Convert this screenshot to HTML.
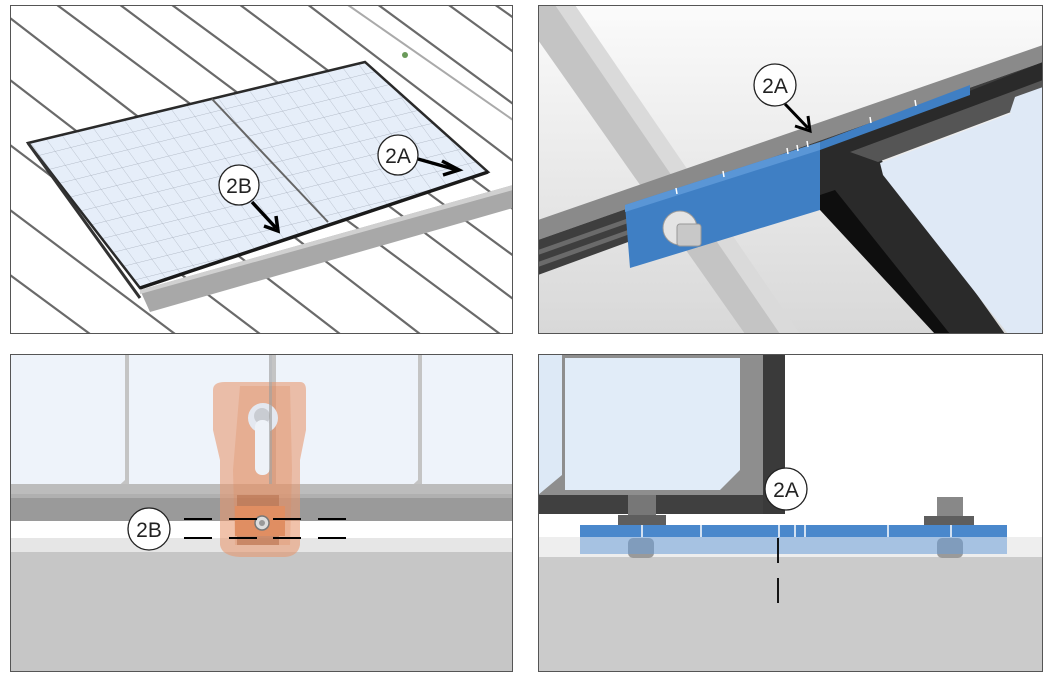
<!DOCTYPE html>
<html><head><meta charset="utf-8"><style>
html,body{margin:0;padding:0;background:#fff;}
svg{display:block;}
text{font-family:"Liberation Sans",sans-serif;}
</style></head><body>
<svg width="1063" height="693" viewBox="0 0 1063 693" xmlns="http://www.w3.org/2000/svg">
<defs>
<clipPath id="c1"><rect x="10" y="5" width="503" height="329"/></clipPath>
<clipPath id="c2"><rect x="538" y="5" width="505" height="329"/></clipPath>
<clipPath id="c3"><rect x="10" y="354" width="503" height="318"/></clipPath>
<clipPath id="c4"><rect x="538" y="354" width="505" height="318"/></clipPath>
<linearGradient id="bg2" x1="0" y1="0" x2="0" y2="1"><stop offset="0" stop-color="#fbfbfb"/><stop offset="1" stop-color="#d8d8d8"/></linearGradient>
<pattern id="grid" width="16" height="16" patternUnits="userSpaceOnUse" patternTransform="rotate(-14) skewX(22)"><rect width="16" height="16" fill="#e6eef9"/><path d="M0 0H16M0 0V16" stroke="#a0a8b6" stroke-width="0.6"/></pattern>
</defs>

<!-- Panel 1 -->
<g clip-path="url(#c1)">
<rect x="10" y="5" width="503" height="329" fill="#fff"/>
<g stroke="#6a6a6a" stroke-width="2.2">
<line x1="10" y1="18" x2="420" y2="334"/>
<line x1="10" y1="-30" x2="500" y2="334"/>
<line x1="20" y1="-70" x2="560" y2="334"/>
<line x1="70" y1="-70" x2="620" y2="334"/>
<line x1="140" y1="-70" x2="680" y2="334"/>
<line x1="210" y1="-70" x2="740" y2="334"/>
<line x1="290" y1="-60" x2="780" y2="300"/>
<line x1="380" y1="-45" x2="800" y2="260"/>
<line x1="460" y1="-20" x2="800" y2="220"/>
<line x1="10" y1="80" x2="340" y2="334"/>
<line x1="10" y1="145" x2="260" y2="334"/>
<line x1="10" y1="210" x2="175" y2="334"/>
<line x1="10" y1="275" x2="90" y2="334"/>
</g>
<line x1="348" y1="5" x2="513" y2="120" stroke="#aaa" stroke-width="2"/>
<circle cx="405" cy="55" r="3" fill="#6a9a5a"/>
<polygon points="140,290 513,185 513,208 150,312" fill="#a8a8a8"/>
<polygon points="140,290 513,185 513,190 140,294" fill="#d0d0d0"/>
<polygon points="28,143 365,62 488,172 140,288" fill="url(#grid)" stroke="#2a2a2a" stroke-width="2.5"/>
<line x1="212" y1="99" x2="328" y2="222" stroke="#666" stroke-width="2"/>
<line x1="28" y1="143" x2="140" y2="298" stroke="#333" stroke-width="3"/>
<line x1="140" y1="288" x2="488" y2="172" stroke="#1a1a1a" stroke-width="3.5"/>
</g>
<rect x="10.5" y="5.5" width="502" height="328" fill="none" stroke="#555" stroke-width="1"/>
<line x1="252" y1="202" x2="276" y2="228" stroke="#000" stroke-width="3.5"/>
<polyline points="264,226 278,231 276,216" fill="none" stroke="#000" stroke-width="3.5"/>
<circle cx="239" cy="185" r="20" fill="#fff" stroke="#222" stroke-width="1.3"/>
<text x="239" y="193" font-size="21" text-anchor="middle" fill="#222">2B</text>
<line x1="418" y1="159" x2="457" y2="170" stroke="#000" stroke-width="3.5"/>
<polyline points="442,161 459,170 443,175" fill="none" stroke="#000" stroke-width="3.5"/>
<circle cx="398" cy="155" r="20" fill="#fff" stroke="#222" stroke-width="1.3"/>
<text x="398" y="163" font-size="21" text-anchor="middle" fill="#222">2A</text>

<!-- Panel 2 -->
<g clip-path="url(#c2)">
<rect x="538" y="5" width="505" height="329" fill="url(#bg2)"/>
<polygon points="538,5 560,5 790,334 745,334 538,40" fill="#c4c4c4"/>
<polygon points="555,5 575,5 800,334 780,334" fill="#dadada"/>
<!-- rail -->
<polygon points="538,220 1043,45 1043,62 538,240" fill="#8a8a8a"/>
<polygon points="538,240 1043,62 1043,90 538,275" fill="#3e3e3e"/>
<polygon points="538,250 1043,72 1043,76 538,255" fill="#6a6a6a"/>
<polygon points="538,262 1043,82 1043,86 538,267" fill="#6a6a6a"/>
<!-- frame -->
<polygon points="820,150 1043,62 1043,92 880,158 1005,334 940,334 820,200" fill="#2a2a2a"/>
<polygon points="820,195 835,190 950,334 935,334 820,210" fill="#0e0e0e"/>
<polygon points="850,152 1043,80 1043,100 878,162" fill="#555"/>
<polygon points="880,163 1020,110 1043,105 1043,334 1008,334 883,175" fill="#dfe9f6"/>
<polygon points="1015,97 1043,87 1043,135 1010,112" fill="#dfe9f6"/>
<!-- blue clamp -->
<polygon points="625,205 820,142 970,85 970,95 820,150 820,210 630,268" fill="#3f7fc4"/>
<polygon points="625,205 820,142 820,150 625,212" fill="#5a96d6"/>
<g stroke="#fff" stroke-width="1.5">
<line x1="676" y1="188" x2="677" y2="194"/><line x1="723" y1="171" x2="724" y2="177"/>
<line x1="787" y1="148" x2="788" y2="154"/><line x1="797" y1="145" x2="798" y2="151"/><line x1="807" y1="141" x2="808" y2="147"/>
<line x1="870" y1="117" x2="871" y2="123"/><line x1="915" y1="100" x2="916" y2="106"/>
</g>
<circle cx="680" cy="228" r="17" fill="#e4e4e4" stroke="#999"/>
<rect x="677" y="224" width="24" height="22" rx="3" fill="#c8c8c8" stroke="#999"/>
</g>
<rect x="538.5" y="5.5" width="504" height="328" fill="none" stroke="#555" stroke-width="1"/>
<line x1="785" y1="104" x2="808" y2="128" stroke="#000" stroke-width="3"/>
<polyline points="795,126 810,131 808,116" fill="none" stroke="#000" stroke-width="3"/>
<circle cx="775" cy="85" r="21" fill="#fff" stroke="#222" stroke-width="1.3"/>
<text x="775" y="93" font-size="21" text-anchor="middle" fill="#222">2A</text>

<!-- Panel 3 -->
<g clip-path="url(#c3)">
<rect x="10" y="354" width="503" height="318" fill="#c6c6c6"/>
<rect x="10" y="354" width="503" height="140" fill="#eef3fa"/>
<g fill="#c4c4c4">
<rect x="125" y="354" width="4" height="140"/><rect x="272" y="354" width="4" height="140"/><rect x="418" y="354" width="4" height="140"/>
<polygon points="110,494 125,480 128,494"/><polygon points="403,494 418,480 421,494"/>
</g>
<rect x="10" y="484" width="503" height="10" fill="#bcbcbc"/>
<rect x="10" y="494" width="503" height="27" fill="#9a9a9a"/>
<rect x="10" y="494" width="503" height="4" fill="#b0b0b0"/>
<rect x="10" y="521" width="503" height="17" fill="#fff"/>
<rect x="10" y="538" width="503" height="14" fill="#e6e6e6"/>
<path d="M225,382 L300,382 Q306,382 306,390 L306,430 L300,460 L300,545 Q298,556 285,557 L240,557 Q222,556 220,545 L220,460 L213,430 L213,390 Q213,382 225,382 Z" fill="#e89a72" opacity="0.6"/>
<path d="M240,386 L290,386 L292,470 L290,545 L235,545 L233,470 Z" fill="#dd8a60" opacity="0.3"/>
<circle cx="263" cy="418" r="15" fill="#e4e8f0"/>
<circle cx="262" cy="416" r="8" fill="#c9ccd2"/>
<rect x="255" y="420" width="15" height="55" rx="7" fill="#eef2f8"/>
<rect x="237" y="495" width="42" height="50" fill="#b8714f" opacity="0.6"/>
<rect x="235" y="506" width="50" height="30" fill="#e08e62"/>
<circle cx="262" cy="523" r="7" fill="#ddd" stroke="#777" stroke-width="1.5"/>
<circle cx="262" cy="523" r="3" fill="#999"/>
<rect x="269" y="354" width="3" height="130" fill="#999" opacity="0.6"/>
</g>
<rect x="10.5" y="354.5" width="502" height="317" fill="none" stroke="#555" stroke-width="1"/>
<g stroke="#000" stroke-width="2">
<line x1="184" y1="519" x2="212" y2="519"/><line x1="229" y1="519" x2="257" y2="519"/><line x1="273" y1="519" x2="301" y2="519"/><line x1="318" y1="519" x2="346" y2="519"/>
<line x1="184" y1="538" x2="212" y2="538"/><line x1="229" y1="538" x2="257" y2="538"/><line x1="273" y1="538" x2="301" y2="538"/><line x1="318" y1="538" x2="346" y2="538"/>
</g>
<circle cx="149" cy="529" r="21" fill="#fff" stroke="#222" stroke-width="1.3"/>
<text x="149" y="537" font-size="21" text-anchor="middle" fill="#222">2B</text>

<!-- Panel 4 -->
<g clip-path="url(#c4)">
<rect x="538" y="354" width="505" height="318" fill="#cbcbcb"/>
<rect x="538" y="354" width="505" height="183" fill="#fff"/>
<rect x="538" y="537" width="505" height="20" fill="#eeeeee"/>
<rect x="538" y="354" width="247" height="160" fill="#404040"/>
<rect x="538" y="354" width="225" height="141" fill="#8e8e8e"/>
<polygon points="538,354 562,354 562,475 538,495" fill="#dde9f6"/>
<polygon points="565,358 740,358 740,470 720,490 565,490" fill="#e1ecf8"/>
<rect x="763" y="354" width="22" height="160" fill="#3a3a3a"/>
<rect x="628" y="495" width="28" height="25" fill="#777"/>
<rect x="618" y="515" width="48" height="10" fill="#5e5e5e"/>
<rect x="628" y="538" width="26" height="20" rx="5" fill="#9a9a9a"/>
<rect x="937" y="497" width="26" height="22" fill="#888"/>
<rect x="924" y="516" width="50" height="10" fill="#5e5e5e"/>
<rect x="937" y="538" width="26" height="20" rx="5" fill="#9a9a9a"/>
<rect x="580" y="525" width="427" height="12" fill="#4a88cc"/>
<rect x="580" y="537" width="427" height="17" fill="#6c9fd8" opacity="0.55"/>
<g stroke="#fff" stroke-width="1.5">
<line x1="642" y1="525" x2="642" y2="537"/><line x1="701" y1="525" x2="701" y2="537"/>
<line x1="779" y1="525" x2="779" y2="537"/><line x1="795" y1="525" x2="795" y2="537"/><line x1="805" y1="525" x2="805" y2="537"/>
<line x1="888" y1="525" x2="888" y2="537"/><line x1="951" y1="525" x2="951" y2="537"/>
</g>
</g>
<rect x="538.5" y="354.5" width="504" height="317" fill="none" stroke="#555" stroke-width="1"/>
<g stroke="#000" stroke-width="1.8">
<line x1="778" y1="538" x2="778" y2="563"/><line x1="778" y1="578" x2="778" y2="603"/>
</g>
<circle cx="786" cy="489" r="21" fill="#fff" stroke="#222" stroke-width="1.3"/>
<text x="786" y="497" font-size="21" text-anchor="middle" fill="#222">2A</text>
</svg>
</body></html>
